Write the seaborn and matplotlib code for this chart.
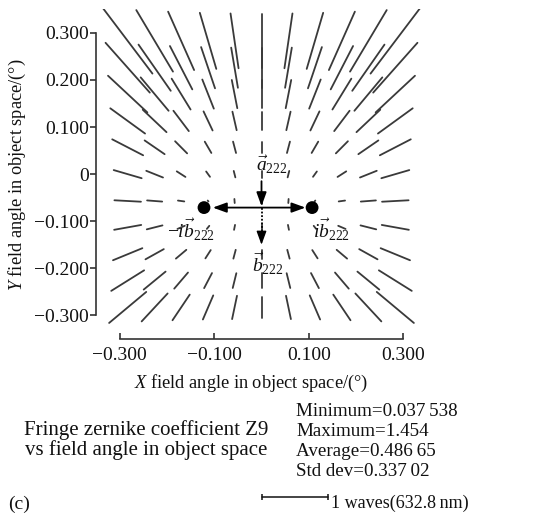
import numpy as np
import pandas as pd
import matplotlib
matplotlib.use("Agg")
import matplotlib.pyplot as plt
import seaborn as sns

# ---------------- data ----------------
x_field = [-0.283, -0.226, -0.170, -0.113, -0.057, 0.0, 0.057, 0.113, 0.170, 0.226, 0.283]
y_field = [0.283, 0.226, 0.170, 0.113, 0.057, 0.0, -0.057, -0.113, -0.170, -0.226, -0.283]

# Z9 magnitude (waves) per field point, rows top -> bottom, columns left -> right
mag_rows = [
    [1.236, 1.079, 0.963, 0.881, 0.835, 0.819, 0.835, 0.881, 0.963, 1.079, 1.236],
    [1.003, 0.848, 0.735, 0.656, 0.614, 0.599, 0.614, 0.656, 0.735, 0.848, 1.003],
    [0.809, 0.655, 0.545, 0.472, 0.433, 0.421, 0.433, 0.472, 0.545, 0.655, 0.809],
    [0.646, 0.492, 0.384, 0.318, 0.286, 0.277, 0.286, 0.318, 0.384, 0.492, 0.646],
    [0.523, 0.365, 0.257, 0.197, 0.177, 0.174, 0.177, 0.197, 0.257, 0.365, 0.523],
    [0.437, 0.271, 0.155, 0.099, 0.100, 0.108, 0.100, 0.099, 0.155, 0.271, 0.437],
    [0.399, 0.227, 0.096, 0.018, 0.061, 0.080, 0.061, 0.018, 0.096, 0.227, 0.399],
    [0.413, 0.243, 0.120, 0.059, 0.076, 0.090, 0.076, 0.059, 0.120, 0.243, 0.413],
    [0.477, 0.315, 0.205, 0.148, 0.137, 0.138, 0.137, 0.148, 0.205, 0.315, 0.477],
    [0.583, 0.426, 0.319, 0.256, 0.229, 0.223, 0.229, 0.256, 0.319, 0.426, 0.583],
    [0.728, 0.574, 0.465, 0.395, 0.359, 0.330, 0.359, 0.395, 0.465, 0.574, 0.728],
]
# orientation of each line (degrees from +X)
ang_rows = [
    [-53.0, -59.3, -66.1, -73.7, -81.7, 90, 81.7, 73.7, 66.1, 59.3, 53.0],
    [-48.5, -55.2, -62.8, -71.4, -80.5, 90, 80.5, 71.4, 62.8, 55.2, 48.5],
    [-43.1, -50.2, -58.6, -68.5, -79.0, 90, 79.0, 68.5, 58.6, 50.2, 43.1],
    [-36.1, -43.5, -53.0, -64.7, -77.2, 90, 77.2, 64.7, 53.0, 43.5, 36.1],
    [-27.4, -34.6, -45.3, -59.9, -75.4, 90, 75.4, 59.9, 45.3, 34.6, 27.4],
    [-16.3, -21.9, -32.8, -54.3, -75.9, 90, 75.9, 54.3, 32.8, 21.9, 16.3],
    [-3.1, -4.4, -7.9, -50.8, -85.8, 90, 85.8, 50.8, 7.9, 4.4, 3.1],
    [10.2, 14.2, 23.3, 51.6, 78.8, 90, -78.8, -51.6, -23.3, -14.2, -10.2],
    [22.4, 29.2, 40.2, 57.4, 75.2, 90, -75.2, -57.4, -40.2, -29.2, -22.4],
    [32.1, 39.5, 49.6, 62.5, 76.3, 90, -76.3, -62.5, -49.6, -39.5, -32.1],
    [40.0, 47.2, 56.2, 66.8, 78.2, 90, -78.2, -66.8, -56.2, -47.2, -40.0],
]

y_ticks = [0.3, 0.2, 0.1, 0.0, -0.1, -0.2, -0.3]
y_tick_labels = ["0.300", "0.200", "0.100", "0", "\u22120.100", "\u22120.200", "\u22120.300"]
x_ticks = [-0.3, -0.1, 0.1, 0.3]
x_tick_labels = ["\u22120.300", "\u22120.100", "0.100", "0.300"]

node_x = [-0.1216, 0.107]
node_y = [-0.071, -0.071]

title_lines = ["Fringe zernike coefficient Z9", "vs field angle in object space"]
stats_lines = ["Minimum=0.037\u2009538", "Maximum=1.454", "Average=0.486\u200965", "Std dev=0.337\u200902"]

WAVE = 0.1408  # length of one wave in field units (scale bar)

# ---------------- style ----------------
sns.set_style("white")
plt.rcParams["font.family"] = ["Liberation Serif", "DejaVu Serif"]
plt.rcParams["mathtext.fontset"] = "custom"
plt.rcParams["mathtext.rm"] = "Liberation Serif"
plt.rcParams["mathtext.it"] = "Liberation Serif:italic"
plt.rcParams["mathtext.bf"] = "Liberation Serif:bold"
plt.rcParams["axes.unicode_minus"] = True

LINE = "#3a3a3a"
INK = "#111111"

# ---------------- segments ----------------
rows = []
seg = 0
for j, yc in enumerate(y_field):
    for i, xc in enumerate(x_field):
        half = mag_rows[j][i] * WAVE / 2.0
        t = np.deg2rad(ang_rows[j][i])
        dx, dy = half * np.cos(t), half * np.sin(t)
        rows.append((seg, xc - dx, yc - dy))
        rows.append((seg, xc + dx, yc + dy))
        seg += 1
df = pd.DataFrame(rows, columns=["seg", "x", "y"])

W, H = 547, 519
fig = plt.figure(figsize=(W / 100, H / 100), dpi=100)
ax = fig.add_axes([96 / W, 1 - 339 / H, 331 / W, 329.7 / H])

sns.lineplot(data=df, x="x", y="y", units="seg", estimator=None, sort=False,
             color=LINE, linewidth=1.3, ax=ax, legend=False)
sns.scatterplot(x=node_x, y=node_y, s=85, color="black", edgecolor="none",
                ax=ax, zorder=6, legend=False)

ax.set_xlim(-0.35, 0.35)
ax.set_ylim(-0.35, 0.35)
ax.set_xlabel("")
ax.set_ylabel("")
for s in ["top", "right"]:
    ax.spines[s].set_visible(False)
for s in ["left", "bottom"]:
    ax.spines[s].set_linewidth(1.2)
    ax.spines[s].set_color("#333333")
ax.spines["left"].set_bounds(-0.3, 0.3)
ax.spines["bottom"].set_bounds(-0.3, 0.3)
ax.set_yticks(y_ticks)
ax.set_yticklabels(y_tick_labels)
ax.set_xticks(x_ticks)
ax.set_xticklabels(x_tick_labels)
ax.tick_params(axis="y", direction="out", length=4.5, width=1.2, pad=0.5,
               labelsize=14, colors="#333333", labelcolor=INK, left=True)
ax.tick_params(axis="x", direction="in", length=4, width=1.2, pad=5.5,
               labelsize=14, colors="#333333", labelcolor=INK, bottom=True)
ax.grid(False)

# ---------------- vectors / annotations ----------------
head = "-|>,head_length=0.55,head_width=0.2"
ax.annotate("", xy=(-0.103, -0.071), xytext=(0.093, -0.071),
            arrowprops=dict(arrowstyle="<|-|>,head_length=0.55,head_width=0.2",
                            color="black", lw=1.3, mutation_scale=15,
                            shrinkA=0, shrinkB=0), zorder=5)
ax.annotate("", xy=(0.0, -0.068), xytext=(0.0, -0.015),
            arrowprops=dict(arrowstyle=head, color="black", lw=1.3,
                            mutation_scale=15, shrinkA=0, shrinkB=0), zorder=5)
ax.plot([0.0, 0.0], [-0.071, -0.126], color="black", lw=1.3, ls=(0, (1, 1)), zorder=5)
ax.annotate("", xy=(0.0, -0.150), xytext=(0.0, -0.124),
            arrowprops=dict(arrowstyle=head, color="black", lw=1.0,
                            mutation_scale=15, shrinkA=0, shrinkB=0), zorder=5)

lab_kw = dict(fontsize=14, color=INK, va="center", ha="left")
ax.text(-0.011, 0.020, r"$\vec{a}_{222}$", **lab_kw)
ax.text(-0.200, -0.118, r"$-i\vec{b}_{222}$", **lab_kw)
ax.text(0.108, -0.118, r"$i\vec{b}_{222}$", **lab_kw)
ax.text(-0.020, -0.190, r"$\vec{b}_{222}$", **lab_kw)

# scale bar (1 wave)
yb = (174.5 - 497) / 471.0
ax.plot([0.0, WAVE], [yb, yb], color=INK, lw=1.1, clip_on=False)
ax.plot([0.0, WAVE], [yb, yb], color=INK, lw=0, marker="|", markersize=5,
        markeredgewidth=1.1, clip_on=False)


def ftext(px, py, s, **kw):
    fig.text(px / W, 1 - py / H, s, **kw)


ftext(17, 175, r"$\mathit{Y}$ field angle in object space/(°)", rotation=90,
      ha="center", va="center", fontsize=13.2, color=INK)
ftext(251, 383, r"$\mathit{X}$ field angle in object space/(°)",
      ha="center", va="center", fontsize=13.2, color=INK)

ftext(146, 435, title_lines[0], ha="center", va="baseline", fontsize=15, color=INK)
ftext(146, 455, title_lines[1], ha="center", va="baseline", fontsize=15, color=INK)
for k, line in enumerate(stats_lines):
    ftext(296, 416 + 20 * k, line, ha="left", va="baseline", fontsize=13.7, color=INK)

ftext(8, 509, "(c)", ha="left", va="baseline", fontsize=14, color=INK)
ftext(331, 508, "1 waves(632.8\u2009nm)", ha="left", va="baseline", fontsize=13, color=INK)

fig.savefig("out.png", dpi=100)
